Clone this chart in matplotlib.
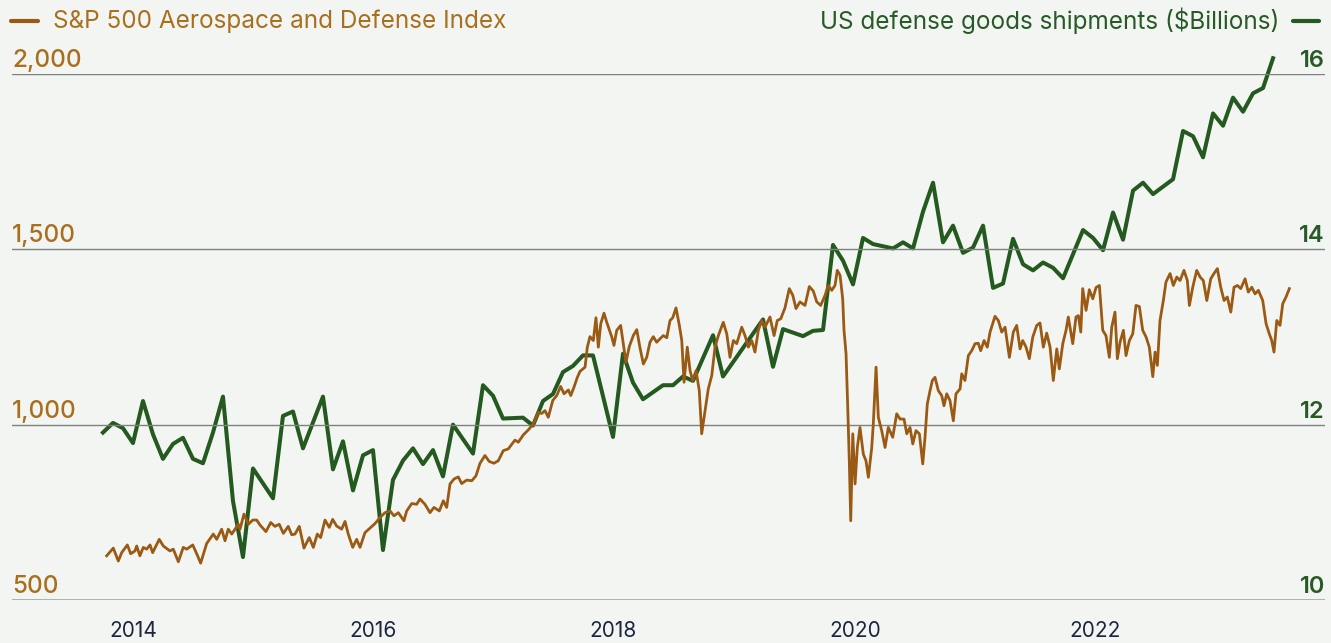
import matplotlib
matplotlib.use("Agg")
import matplotlib.pyplot as plt
import matplotlib.transforms as mtransforms
from matplotlib.lines import Line2D
import pandas as pd

# S&P 500 Aerospace and Defense Index (decimal year, index level)
idx_years = [
    2014.031, 2014.086, 2014.128, 2014.156, 2014.203, 2014.231, 2014.267, 2014.281, 2014.308, 2014.336,
    2014.364, 2014.392, 2014.414, 2014.469, 2014.503, 2014.558, 2014.586, 2014.628, 2014.669, 2014.698,
    2014.748, 2014.781, 2014.814, 2014.864, 2014.919, 2014.948, 2014.989, 2015.017, 2015.044, 2015.073,
    2015.128, 2015.142, 2015.175, 2015.211, 2015.248, 2015.281, 2015.308, 2015.358, 2015.398, 2015.433,
    2015.469, 2015.503, 2015.544, 2015.573, 2015.600, 2015.636, 2015.675, 2015.719, 2015.753, 2015.786,
    2015.814, 2015.850, 2015.886, 2015.914, 2015.947, 2015.989, 2016.017, 2016.044, 2016.081, 2016.114,
    2016.142, 2016.183, 2016.231, 2016.267, 2016.308, 2016.350, 2016.392, 2016.425, 2016.461, 2016.508,
    2016.531, 2016.573, 2016.614, 2016.642, 2016.683, 2016.725, 2016.758, 2016.803, 2016.836, 2016.864,
    2016.892, 2016.925, 2016.961, 2016.989, 2017.031, 2017.073, 2017.108, 2017.142, 2017.183, 2017.219,
    2017.258, 2017.294, 2017.336, 2017.378, 2017.433, 2017.461, 2017.503, 2017.544, 2017.586, 2017.628,
    2017.656, 2017.683, 2017.711, 2017.748, 2017.781, 2017.814, 2017.842, 2017.878, 2017.898, 2017.925,
    2017.953, 2017.975, 2018.017, 2018.036, 2018.058, 2018.086, 2018.108, 2018.128, 2018.148, 2018.175,
    2018.198, 2018.219, 2018.239, 2018.258, 2018.281, 2018.314, 2018.336, 2018.358, 2018.386, 2018.419,
    2018.448, 2018.475, 2018.503, 2018.531, 2018.558, 2018.586, 2018.614, 2018.642, 2018.669, 2018.698,
    2018.725, 2018.748, 2018.775, 2018.803, 2018.823, 2018.842, 2018.869, 2018.892, 2018.914, 2018.942,
    2018.969, 2018.989, 2019.017, 2019.044, 2019.073, 2019.100, 2019.128, 2019.169, 2019.198, 2019.225,
    2019.253, 2019.281, 2019.323, 2019.350, 2019.378, 2019.406, 2019.433, 2019.461, 2019.489, 2019.517,
    2019.558, 2019.592, 2019.619, 2019.648, 2019.683, 2019.719, 2019.748, 2019.775, 2019.808, 2019.850,
    2019.886, 2019.919, 2019.948, 2019.981, 2020.017, 2020.044, 2020.073, 2020.100, 2020.119, 2020.142,
    2020.164, 2020.175, 2020.192, 2020.206, 2020.219, 2020.231, 2020.248, 2020.267, 2020.286, 2020.308,
    2020.336, 2020.358, 2020.378, 2020.406, 2020.419, 2020.442, 2020.461, 2020.489, 2020.517, 2020.544,
    2020.581, 2020.614, 2020.642, 2020.675, 2020.698, 2020.725, 2020.748, 2020.775, 2020.803, 2020.831,
    2020.850, 2020.869, 2020.892, 2020.911, 2020.933, 2020.961, 2020.989, 2021.008, 2021.031, 2021.058,
    2021.086, 2021.108, 2021.142, 2021.156, 2021.183, 2021.211, 2021.239, 2021.267, 2021.294, 2021.314,
    2021.342, 2021.369, 2021.392, 2021.433, 2021.461, 2021.489, 2021.517, 2021.553, 2021.586, 2021.614,
    2021.642, 2021.664, 2021.692, 2021.719, 2021.748, 2021.781, 2021.808, 2021.836, 2021.864, 2021.892,
    2021.919, 2021.948, 2021.969, 2021.998, 2022.025, 2022.044, 2022.081, 2022.108, 2022.128, 2022.148,
    2022.164, 2022.192, 2022.219, 2022.248, 2022.275, 2022.303, 2022.331, 2022.358, 2022.386, 2022.406,
    2022.433, 2022.453, 2022.475, 2022.503, 2022.525, 2022.553, 2022.581, 2022.608, 2022.636, 2022.664,
    2022.692, 2022.719, 2022.748, 2022.767, 2022.786, 2022.808, 2022.836, 2022.858, 2022.892, 2022.919,
    2022.948, 2022.975, 2023.008, 2023.036, 2023.053, 2023.081, 2023.114, 2023.142, 2023.169, 2023.198,
    2023.231, 2023.258, 2023.286, 2023.314, 2023.342, 2023.369, 2023.398, 2023.425, 2023.453, 2023.481,
    2023.517, 2023.544, 2023.573, 2023.600, 2023.628, 2023.664, 2023.692, 2023.719, 2023.739, 2023.758,
    2023.781, 2023.808, 2023.831, 2023.858, 2023.886,
]
idx_vals = [
    626, 648, 611, 635, 657, 632, 640, 654, 626, 650,
    645, 657, 635, 673, 654, 640, 645, 609, 650, 645,
    657, 632, 605, 661, 688, 673, 702, 669, 702, 688,
    716, 702, 745, 716, 728, 728, 714, 695, 721, 710,
    716, 690, 710, 686, 688, 710, 648, 678, 650, 688,
    678, 728, 707, 730, 711, 702, 724, 688, 650, 673,
    650, 692, 707, 718, 735, 749, 754, 740, 749, 726,
    754, 775, 773, 788, 773, 749, 764, 754, 783, 764,
    831, 845, 851, 832, 842, 840, 854, 890, 912, 895,
    890, 897, 926, 931, 956, 950, 971, 985, 1002, 1035,
    1032, 1040, 1021, 1069, 1083, 1109, 1088, 1099, 1083, 1107,
    1135, 1152, 1164, 1221, 1251, 1240, 1305, 1221, 1288, 1318,
    1292, 1271, 1251, 1226, 1269, 1283, 1231, 1178, 1223, 1254,
    1271, 1219, 1173, 1192, 1235, 1251, 1235, 1245, 1254, 1248,
    1297, 1305, 1333, 1283, 1240, 1121, 1221, 1154, 1126, 1154,
    1097, 974, 1040, 1102, 1140, 1221, 1254, 1292, 1259, 1192,
    1240, 1231, 1278, 1254, 1221, 1240, 1207, 1269, 1297, 1278,
    1307, 1254, 1297, 1302, 1333, 1388, 1369, 1331, 1350, 1340,
    1394, 1381, 1350, 1340, 1369, 1397, 1383, 1397, 1440, 1426,
    1359, 1269, 1202, 1050, 897, 726, 974, 831, 935, 992,
    916, 897, 850, 935, 1002, 1164, 1021, 983, 935, 992,
    964, 1031, 1016, 1016, 974, 992, 945, 983, 974, 888,
    964, 1059, 1097, 1126, 1135, 1097, 1083, 1054, 1088, 1069,
    1011, 1088, 1102, 1145, 1126, 1197, 1211, 1231, 1232, 1211,
    1240, 1221, 1264, 1309, 1297, 1264, 1278, 1192, 1264, 1283,
    1216, 1240, 1221, 1188, 1250, 1283, 1290, 1221, 1261, 1221,
    1126, 1216, 1159, 1231, 1269, 1307, 1231, 1307, 1311, 1264,
    1388, 1326, 1385, 1359, 1391, 1397, 1269, 1254, 1192, 1278,
    1321, 1188, 1235, 1269, 1197, 1240, 1259, 1340, 1337, 1269,
    1250, 1221, 1137, 1207, 1169, 1297, 1354, 1407, 1431, 1397,
    1421, 1411, 1440, 1411, 1340, 1392, 1440, 1421, 1411, 1354,
    1416, 1431, 1445, 1392, 1354, 1364, 1321, 1392, 1397, 1388,
    1416, 1378, 1392, 1373, 1383, 1354, 1288, 1259, 1240, 1207,
    1297, 1283, 1345, 1364, 1388,
]

# US defense goods shipments, $ billions (monthly)
ship_months = [
    "2014-01", "2014-02", "2014-03", "2014-04", "2014-05", "2014-06", "2014-07", "2014-08", "2014-09",
    "2014-10", "2014-11", "2014-12", "2015-01", "2015-02", "2015-03", "2015-04", "2015-06", "2015-07",
    "2015-08", "2015-09", "2015-11", "2015-12", "2016-01", "2016-02", "2016-03", "2016-04", "2016-05",
    "2016-06", "2016-07", "2016-08", "2016-09", "2016-10", "2016-11", "2016-12", "2017-02", "2017-03",
    "2017-04", "2017-05", "2017-07", "2017-08", "2017-09", "2017-10", "2017-11", "2017-12", "2018-01",
    "2018-02", "2018-04", "2018-05", "2018-06", "2018-07", "2018-09", "2018-10", "2018-11", "2018-12",
    "2019-02", "2019-03", "2019-07", "2019-08", "2019-09", "2019-11", "2019-12", "2020-01", "2020-02",
    "2020-03", "2020-04", "2020-05", "2020-06", "2020-08", "2020-09", "2020-10", "2020-11", "2020-12",
    "2021-01", "2021-02", "2021-03", "2021-04", "2021-05", "2021-06", "2021-07", "2021-08", "2021-09",
    "2021-10", "2021-11", "2021-12", "2022-01", "2022-03", "2022-04", "2022-05", "2022-06", "2022-07",
    "2022-08", "2022-09", "2022-10", "2022-12", "2023-01", "2023-02", "2023-03", "2023-04", "2023-05",
    "2023-06", "2023-07", "2023-08", "2023-09", "2023-10",
]
ship_vals = [
    11.91, 12.02, 11.96, 11.79, 12.27, 11.89, 11.61, 11.78, 11.85,
    11.61, 11.56, 11.91, 12.32, 11.13, 10.49, 11.50, 11.16, 12.10,
    12.15, 11.73, 12.32, 11.49, 11.81, 11.25, 11.65, 11.71, 10.57,
    11.37, 11.59, 11.73, 11.55, 11.71, 11.41, 12.00, 11.67, 12.45,
    12.33, 12.07, 12.08, 11.99, 12.27, 12.35, 12.60, 12.67, 12.79,
    12.79, 11.86, 12.81, 12.48, 12.29, 12.45, 12.45, 12.55, 12.50,
    13.02, 12.55, 13.20, 12.66, 13.09, 13.01, 13.07, 13.08, 14.05,
    13.87, 13.60, 14.13, 14.06, 14.01, 14.08, 14.01, 14.43, 14.76,
    14.08, 14.27, 13.96, 14.02, 14.27, 13.56, 13.61, 14.12, 13.83,
    13.76, 13.85, 13.79, 13.67, 14.22, 14.13, 13.99, 14.42, 14.11,
    14.67, 14.76, 14.63, 14.80, 15.35, 15.29, 15.05, 15.55, 15.41,
    15.73, 15.57, 15.78, 15.84, 16.18,
]

left_ticks = [500, 1000, 1500, 2000]
right_ticks = [10, 12, 14, 16]
year_ticks = [2014, 2016, 2018, 2020, 2022]

BG = "#f3f5f2"
BROWN = "#9a5a14"
BROWN_TXT = "#a8701e"
GREEN = "#245a1f"
GREEN_TXT = "#285a27"
NAVY = "#1e2540"
FONT = ["Inter", "DejaVu Sans"]

plt.rcParams["font.family"] = FONT

d = pd.to_datetime(ship_months, format="%Y-%m")
ship_x = d.year + (d.month - 1) / 12.0

W, H = 1331, 643
fig = plt.figure(figsize=(W / 100, H / 100), dpi=100, facecolor=BG)
ax = fig.add_axes([12 / W, (H - 600) / H, (1325 - 12) / W, (600 - 74) / H])
ax2 = ax.twinx()
ax2.patch.set_visible(False)

ax.set_xlim(2013.242, 2024.183)
ax.set_ylim(500, 2000)
ax2.set_ylim(10, 16)

for a in (ax, ax2):
    for s in a.spines.values():
        s.set_visible(False)
    a.tick_params(axis="y", left=False, right=False, labelleft=False, labelright=False)

# gridlines
for v in left_ticks[1:]:
    ax.axhline(v, color="#7c837e", lw=1.0, zorder=1)
ax.axhline(left_ticks[0], color="#a5aca7", lw=2.0, zorder=1)

# series: green behind, brown on top (green runs above the 16 line at the end)
ax2.plot(ship_x, ship_vals, color=GREEN, lw=2.9, zorder=2, clip_on=False)
ax.set_zorder(ax2.get_zorder() + 1)
ax.patch.set_visible(False)
ax.plot(idx_years, idx_vals, color=BROWN, lw=2.0, zorder=3)

# axis labels above gridlines
off = mtransforms.ScaledTranslation(0, 2 / 100, fig.dpi_scale_trans)
tl = mtransforms.blended_transform_factory(ax.transAxes, ax.transData) + off
tr = mtransforms.blended_transform_factory(ax2.transAxes, ax2.transData) + off
for v in left_ticks:
    ax.text(0.0, v, f"{v:,}", transform=tl, ha="left", va="bottom",
            fontsize=17.5, color=BROWN_TXT, fontweight="medium")
for v in right_ticks:
    ax2.text(1.0, v, f"{v}", transform=tr, ha="right", va="bottom",
             fontsize=17, color=GREEN_TXT, fontweight="semibold")

# x axis
ax.set_xticks(year_ticks)
ax.set_xticklabels([str(y) for y in year_ticks], fontsize=15, color=NAVY)
ax.tick_params(axis="x", length=0, pad=15)
shift = mtransforms.ScaledTranslation(6 / 100, 0, fig.dpi_scale_trans)
for lbl in ax.get_xticklabels():
    lbl.set_horizontalalignment("left")
    lbl.set_transform(lbl.get_transform() + shift)

# legend header
ly = 1 - 21 / H
fig.add_artist(Line2D([11 / W, 38 / W], [ly, ly], color=BROWN, lw=3, solid_capstyle="round"))
fig.text(53 / W, ly, "S&P 500 Aerospace and Defense Index", ha="left", va="center",
         fontsize=17.5, color=BROWN_TXT)
fig.add_artist(Line2D([1293 / W, 1319 / W], [ly, ly], color=GREEN, lw=3, solid_capstyle="round"))
fig.text(1279 / W, ly, "US defense goods shipments ($Billions)", ha="right", va="center",
         fontsize=17.5, color=GREEN_TXT)

fig.savefig("out.png", dpi=100, facecolor=BG)
